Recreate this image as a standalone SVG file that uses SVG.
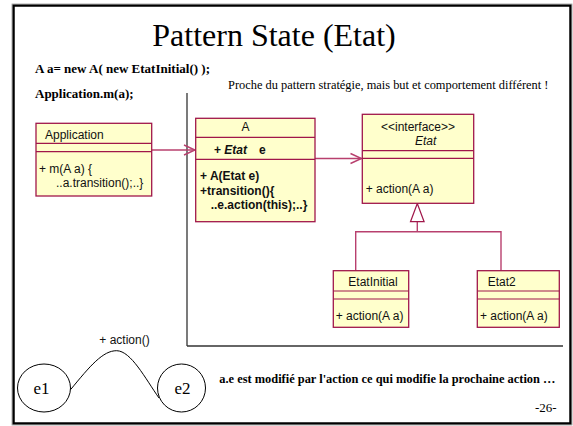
<svg xmlns="http://www.w3.org/2000/svg" width="573" height="426" viewBox="0 0 573 426">
<style>
.box{fill:#ffffcc;stroke:#a0174a;stroke-width:1.3}
.sep{stroke:#a0174a;stroke-width:1.2}
.uml{font-family:"Liberation Sans",Arial,sans-serif;font-size:12px;fill:#111}
.b{font-weight:bold}
.conn{fill:none;stroke:#b8406e;stroke-width:1.4}
.serif{font-family:"Liberation Serif","Times New Roman",serif;fill:#000}
</style>
<rect width="573" height="426" fill="#fff"/>
<rect x="13.5" y="5.5" width="557" height="418" fill="none" stroke="#000" stroke-width="2.5"/>
<rect x="12" y="4" width="560" height="421" fill="none" stroke="#999" stroke-width="0.8"/>

<text class="serif" x="274" y="46" font-size="32" text-anchor="middle">Pattern State (Etat)</text>
<text class="serif b" x="35" y="73" font-size="13">A a= new A( new EtatInitial() );</text>
<text class="serif b" x="35" y="98" font-size="13">Application.m(a);</text>
<text class="serif" x="228" y="88.5" font-size="12.4">Proche du pattern stratégie, mais but et comportement différent !</text>

<g id="divider" stroke="#333" stroke-width="1.3" fill="none">
<line x1="187" y1="93" x2="187" y2="346"/>
<line x1="187" y1="346" x2="563" y2="346"/>
</g>

<g id="connectors">
<line class="conn" x1="152" y1="150" x2="195" y2="150"/>
<polyline class="conn" points="184,145 195,150 184,155"/>
<line class="conn" x1="315" y1="158.5" x2="361.5" y2="158.5"/>
<polyline class="conn" points="350.5,153.5 361.5,158.5 350.5,163.5"/>
<polyline class="conn" points="355.7,270.7 355.7,231.7 501,231.7 501,270.7"/>
<line class="conn" x1="417.3" y1="221.7" x2="417.3" y2="231.7"/>
<polygon points="417.3,203.5 410.5,221.7 424.1,221.7" fill="#fff" stroke="#a0174a" stroke-width="1.2"/>
</g>

<g id="Application">
<rect class="box" x="36" y="123.3" width="115.7" height="72.7"/>
<line class="sep" x1="36" y1="143.3" x2="151.7" y2="143.3"/>
<line class="sep" x1="36" y1="151.7" x2="151.7" y2="151.7"/>
<text class="uml" x="45" y="139">Application</text>
<text class="uml" x="39" y="173">+ m(A a) {</text>
<text class="uml" x="56" y="186.5">..a.transition();..}</text>
</g>

<g id="A">
<rect class="box" x="195.7" y="118.3" width="119.3" height="103.4"/>
<line class="sep" x1="195.7" y1="137.3" x2="315" y2="137.3"/>
<line class="sep" x1="195.7" y1="159.3" x2="315" y2="159.3"/>
<text class="uml" x="241.5" y="130.5">A</text>
<text class="uml b" x="214" y="154">+ <tspan font-style="italic">Etat</tspan><tspan x="259">e</tspan></text>
<text class="uml b" x="200" y="180">+ A(Etat e)</text>
<text class="uml b" x="200" y="194.5">+transition(){</text>
<text class="uml b" x="210.7" y="209.3">..e.action(this);..}</text>
</g>

<g id="Etat">
<rect class="box" x="362.3" y="114.3" width="111.4" height="89"/>
<line class="sep" x1="362.3" y1="150.7" x2="473.7" y2="150.7"/>
<line class="sep" x1="362.3" y1="158.3" x2="473.7" y2="158.3"/>
<text class="uml" x="381" y="130.7">&lt;&lt;interface&gt;&gt;</text>
<text class="uml" x="415" y="145" font-style="italic">Etat</text>
<text class="uml" x="365.7" y="193.3">+ action(A a)</text>
</g>

<g id="EtatInitial">
<rect class="box" x="333.3" y="270.7" width="75.4" height="56.6"/>
<line class="sep" x1="333.3" y1="291" x2="408.7" y2="291"/>
<line class="sep" x1="333.3" y1="299" x2="408.7" y2="299"/>
<text class="uml" x="348.3" y="285.7">EtatInitial</text>
<text class="uml" x="335.7" y="320">+ action(A a)</text>
</g>

<g id="Etat2">
<rect class="box" x="477.3" y="270.7" width="82" height="56.6"/>
<line class="sep" x1="477.3" y1="291" x2="559.3" y2="291"/>
<line class="sep" x1="477.3" y1="299" x2="559.3" y2="299"/>
<text class="uml" x="487.7" y="285.7">Etat2</text>
<text class="uml" x="480" y="320">+ action(A a)</text>
</g>

<g id="state-diagram">
<g id="e1">
<ellipse cx="44" cy="388" rx="26.5" ry="24" fill="none" stroke="#000" stroke-width="1"/>
<text class="serif" x="41.5" y="394" font-size="17" text-anchor="middle">e1</text>
</g>
<g id="e2">
<ellipse cx="181.5" cy="388" rx="24" ry="24" fill="none" stroke="#000" stroke-width="1"/>
<text class="serif" x="182.5" y="394" font-size="17" text-anchor="middle">e2</text>
</g>
<path d="M70.7,389.5 C90,366 103,350.5 116.7,350.7 C131,351 145,378 159,398" fill="none" stroke="#000" stroke-width="1"/>
<text class="uml" x="99.3" y="344" font-size="11.5">+ action()</text>
</g>

<text class="serif b" x="219.3" y="383.3" font-size="12.4">a.e est modifié par l'action ce qui modifie la prochaine action …</text>
<text class="serif" x="535" y="411.5" font-size="13">-26-</text>
</svg>
